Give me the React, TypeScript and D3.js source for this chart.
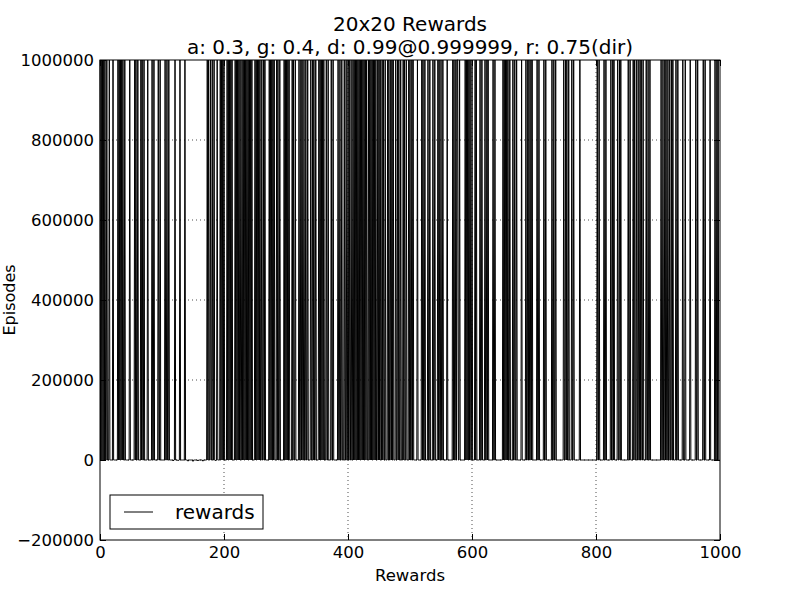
import React, { useEffect, useRef } from 'react';
import * as d3 from 'd3';

// episodes where the reward hits the 1e6 ceiling
const highEpisodes = [
  0, 2, 4, 6, 8, 11, 15, 21, 29, 31, 33, 35, 37, 40, 48, 56, 58, 61, 66, 68, 71, 77, 84, 87, 94, 97,
  105, 108, 111, 121, 129, 137,
  173, 175, 178, 181, 184, 189, 194, 196, 198, 200, 205, 207, 209, 211, 213, 218, 220, 222, 224, 226,
  229, 231, 233, 235, 237, 239, 241, 243, 245, 250, 252, 254, 256, 258, 261, 264, 266, 273, 275, 277,
  279, 281, 285, 287, 290, 297, 299, 301, 303, 305, 310, 312, 315, 321, 324, 326, 329, 332,
  335, 340, 343, 345, 348, 353, 355, 357, 359, 361, 365, 368, 373, 376, 384, 387, 390, 394, 397, 400,
  402, 405, 408, 410, 412, 414, 416, 418, 420, 422, 424, 426, 428, 430, 433, 435, 437, 439, 441, 443,
  445, 448, 450, 452, 455, 457, 460, 464, 466, 469, 471, 473, 477, 480, 482, 485, 489, 491, 494, 498,
  500, 503, 505, 512, 519, 521, 524, 529, 532, 537, 540, 545, 547, 550, 553, 560, 569, 571, 574, 576,
  577, 580, 589, 591, 593, 595, 597, 600, 605, 607, 613, 616, 621, 624, 626, 634, 637, 650, 652, 654,
  656, 658, 661, 666, 669, 672, 680, 687, 690, 692, 695, 697, 705, 708, 716, 719, 729, 732, 735, 748,
  751, 753, 756, 761, 764, 774, 802, 805, 813, 816, 824, 827, 829,
  835, 838, 840, 852, 855, 860, 862, 865, 868, 871, 873, 876, 881, 884, 887, 905, 908, 911, 913, 916,
  919, 922, 924, 929, 932, 940, 944, 952, 961, 964, 973, 976, 984, 992, 995, 997,
];
// small negative rewards just below zero
const lowDips: [number, number][] = [
  [118, -2500], [126, -2000], [142, -3000], [150, -3500], [158, -2500], [166, -3000], [186, -2000],
];
const ceiling = 1000000;
const episodeCount = 1000;

const xTicks = [0, 200, 400, 600, 800, 1000];
const yTicks = [-200000, 0, 200000, 400000, 600000, 800000, 1000000];
const titleLines = ['20x20 Rewards', 'a: 0.3, g: 0.4, d: 0.99@0.999999, r: 0.75(dir)'];
const legendLabel = 'rewards';

export default function App() {
  const ref = useRef<HTMLDivElement>(null);

  useEffect(() => {
    document.body.style.margin = '0';
    if (!ref.current) return;
    const el = ref.current;
    d3.select(el).select('svg').remove();

    const width = 800, height = 600;
    const margin = { top: 60, right: 80, bottom: 60, left: 100 };
    const iw = width - margin.left - margin.right;
    const ih = height - margin.top - margin.bottom;
    const font = '"DejaVu Sans", sans-serif';

    const root = d3.select(el).append('svg').attr('width', width).attr('height', height)
      .style('display', 'block').style('background', '#fff').attr('font-family', font);

    const highs = new Set(highEpisodes);
    const dips = new Map(lowDips);
    const pts = d3.range(episodeCount).map(i => ({ ep: i, r: highs.has(i) ? ceiling : (dips.get(i) ?? 0) }));

    const x = d3.scaleLinear().domain([0, 1000]).range([0, iw]);
    const y = d3.scaleLinear().domain([-200000, 1000000]).range([ih, 0]);

    const svg = root.append('g').attr('transform', `translate(${margin.left},${margin.top})`);

    // grid
    const grid = svg.append('g').attr('stroke', '#000').attr('stroke-width', 0.7).attr('stroke-dasharray', '1,3');
    grid.selectAll('line.gx').data(xTicks.slice(1, -1)).enter().append('line')
      .attr('x1', d => x(d)).attr('x2', d => x(d)).attr('y1', 0).attr('y2', ih);
    grid.selectAll('line.gy').data(yTicks.slice(1, -1)).enter().append('line')
      .attr('y1', d => y(d)).attr('y2', d => y(d)).attr('x1', 0).attr('x2', iw);

    const lineGen = d3.line<{ ep: number; r: number }>().x(d => x(d.ep)).y(d => y(d.r));
    svg.append('path').datum(pts).attr('d', lineGen).attr('fill', 'none')
      .attr('stroke', '#000').attr('stroke-width', 1).attr('stroke-linejoin', 'miter');

    const fmt = (v: number) => String(v).replace('-', '\u2212');
    const styleAxis = (g: d3.Selection<SVGGElement, unknown, null, undefined>) => {
      g.select('.domain').remove();
      g.selectAll('line').attr('stroke', '#000');
      g.selectAll('text').attr('font-size', '16.5px').attr('fill', '#000').attr('font-family', font);
    };

    svg.append('g').attr('transform', `translate(0,${ih})`)
      .call(d3.axisBottom(x).tickValues(xTicks).tickSizeInner(-6).tickSizeOuter(0).tickPadding(6).tickFormat(d => fmt(+d)))
      .call(styleAxis);
    svg.append('g')
      .call(d3.axisTop(x).tickValues(xTicks).tickSizeInner(-6).tickSizeOuter(0).tickFormat(() => ''))
      .call(styleAxis);
    svg.append('g')
      .call(d3.axisLeft(y).tickValues(yTicks).tickSizeInner(-6).tickSizeOuter(0).tickPadding(6).tickFormat(d => fmt(+d)))
      .call(styleAxis);
    svg.append('g').attr('transform', `translate(${iw},0)`)
      .call(d3.axisRight(y).tickValues(yTicks).tickSizeInner(-6).tickSizeOuter(0).tickFormat(() => ''))
      .call(styleAxis);

    // spines
    svg.append('rect').attr('width', iw).attr('height', ih).attr('fill', 'none').attr('stroke', '#000').attr('stroke-width', 1);

    // legend
    const lg = svg.append('g').attr('transform', `translate(10,${ih - 45})`);
    lg.append('rect').attr('width', 153).attr('height', 34).attr('fill', '#fff').attr('stroke', '#000').attr('stroke-width', 1);
    lg.append('line').attr('x1', 14).attr('x2', 43).attr('y1', 17).attr('y2', 17).attr('stroke', '#000').attr('stroke-width', 1);
    lg.append('text').attr('x', 65).attr('y', 24).attr('font-size', '20px').text(legendLabel);

    // titles and labels
    root.append('g').selectAll('text').data(titleLines).enter().append('text')
      .attr('x', margin.left + iw / 2).attr('y', (_, i) => 31 + i * 23).attr('text-anchor', 'middle')
      .attr('font-size', '20px').text(d => d);
    root.append('text').attr('x', margin.left + iw / 2).attr('y', 581).attr('text-anchor', 'middle')
      .attr('font-size', '16.5px').text('Rewards');
    root.append('text').attr('transform', `translate(15,${margin.top + ih / 2}) rotate(-90)`)
      .attr('text-anchor', 'middle').attr('font-size', '16px').text('Episodes');

    return () => { d3.select(el).select('svg').remove(); };
  }, []);

  return <div ref={ref} />;
}
